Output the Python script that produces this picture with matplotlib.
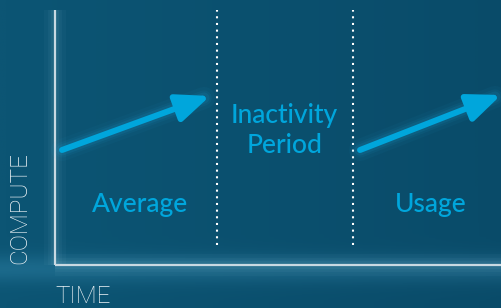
import numpy as np
import matplotlib
matplotlib.use("Agg")
import matplotlib.pyplot as plt
from matplotlib.colors import LinearSegmentedColormap

# ---- data (time / compute units in the axes' own scale) ----
x_max = 446
y_max = 255
boundaries = [162, 298]                 # dotted period separators
boundary_bottom = 20
arrow_starts = [(7, 115), (305, 115)]
arrow_ends = [(155, 169), (446, 170)]
region_labels = ["Average", "Inactivity", "Period", "Usage"]
label_x = [85.5, 229.5, 229.5, 376]
label_y = [53, 142, 112, 53]
x_label = "TIME"
y_label = "COMPUTE"

W, H = 501, 308
fig = plt.figure(figsize=(W / 100, H / 100), dpi=100)

# background gradient
bg = fig.add_axes([0, 0, 1, 1])
bg.set_axis_off()
xx = np.linspace(0, 1, 300)
yy = np.linspace(0, 1, 200)
X, Y = np.meshgrid(xx, yy)
base = 1 - 0.35 * X
cmap = LinearSegmentedColormap.from_list("bgc", ["#053a56", "#0c5574"])
img = cmap(base)
band = np.exp(-((Y - 0.875) / 0.045) ** 2) * 0.10
img[..., :3] = np.clip(img[..., :3] + band[..., None] * np.array([0.6, 0.8, 0.9]), 0, 1)
bg.imshow(img, extent=[0, 1, 0, 1], aspect="auto", origin="upper")
bg.set_xlim(0, 1)
bg.set_ylim(0, 1)

ax = fig.add_axes([55 / W, (H - 265) / H, (W - 55) / W, 255 / H])
ax.set_xlim(0, x_max)
ax.set_ylim(0, y_max)
ax.patch.set_alpha(0)
for s in ax.spines.values():
    s.set_visible(False)
ax.set_xticks([])
ax.set_yticks([])

axis_col = "#c9d9e2"
for lw, a in [(16, 0.04), (10, 0.05), (6, 0.07)]:
    ax.plot([0, 0], [0, y_max], color="#9fd0e6", lw=lw, alpha=a, solid_capstyle="butt", clip_on=False)
    ax.plot([0, x_max], [0, 0], color="#9fd0e6", lw=lw, alpha=a, solid_capstyle="butt", clip_on=False)
ax.plot([0, 0], [0, y_max], color=axis_col, lw=1.6, solid_capstyle="butt", clip_on=False)
ax.plot([0, x_max], [0, 0], color=axis_col, lw=1.6, solid_capstyle="butt", clip_on=False)

for b in boundaries:
    ax.plot([b, b], [boundary_bottom, y_max], color="white", lw=1.5,
            linestyle=(0, (1, 2.2)), clip_on=False)

arrow_col = "#00a6dc"
for (x0, y0), (x1, y1) in zip(arrow_starts, arrow_ends):
    for lw, a in [(16, 0.04), (11, 0.06), (8, 0.09)]:
        ax.plot([x0, x1 - 6], [y0, y1 - 2], color="#25b8f0", lw=lw, alpha=a,
                solid_capstyle="round", clip_on=False)
    ax.annotate("", xy=(x1, y1), xytext=(x0, y0),
                arrowprops=dict(arrowstyle="-|>,head_length=1.0,head_width=0.42", lw=4.3,
                                color=arrow_col, shrinkA=0, shrinkB=0, mutation_scale=20),
                annotation_clip=False)

font = "Lato"
for t, x, y in zip(region_labels, label_x, label_y):
    ax.text(x, y, t, color=arrow_col, fontsize=19, ha="center", va="baseline",
            family=font, fontweight="medium")

lab_font = "Roboto"
fig.text(55 / W, 1 - 303 / H, x_label, color="#f0f5f8", fontsize=17.5, family=lab_font,
         fontweight="light", ha="left", va="baseline")
fig.text(31 / W, 1 - 207.5 / H, y_label, color="#f0f5f8", fontsize=17.5, family=lab_font,
         fontweight="light", rotation=90, ha="right", va="center")

fig.savefig("out.png", dpi=100)
